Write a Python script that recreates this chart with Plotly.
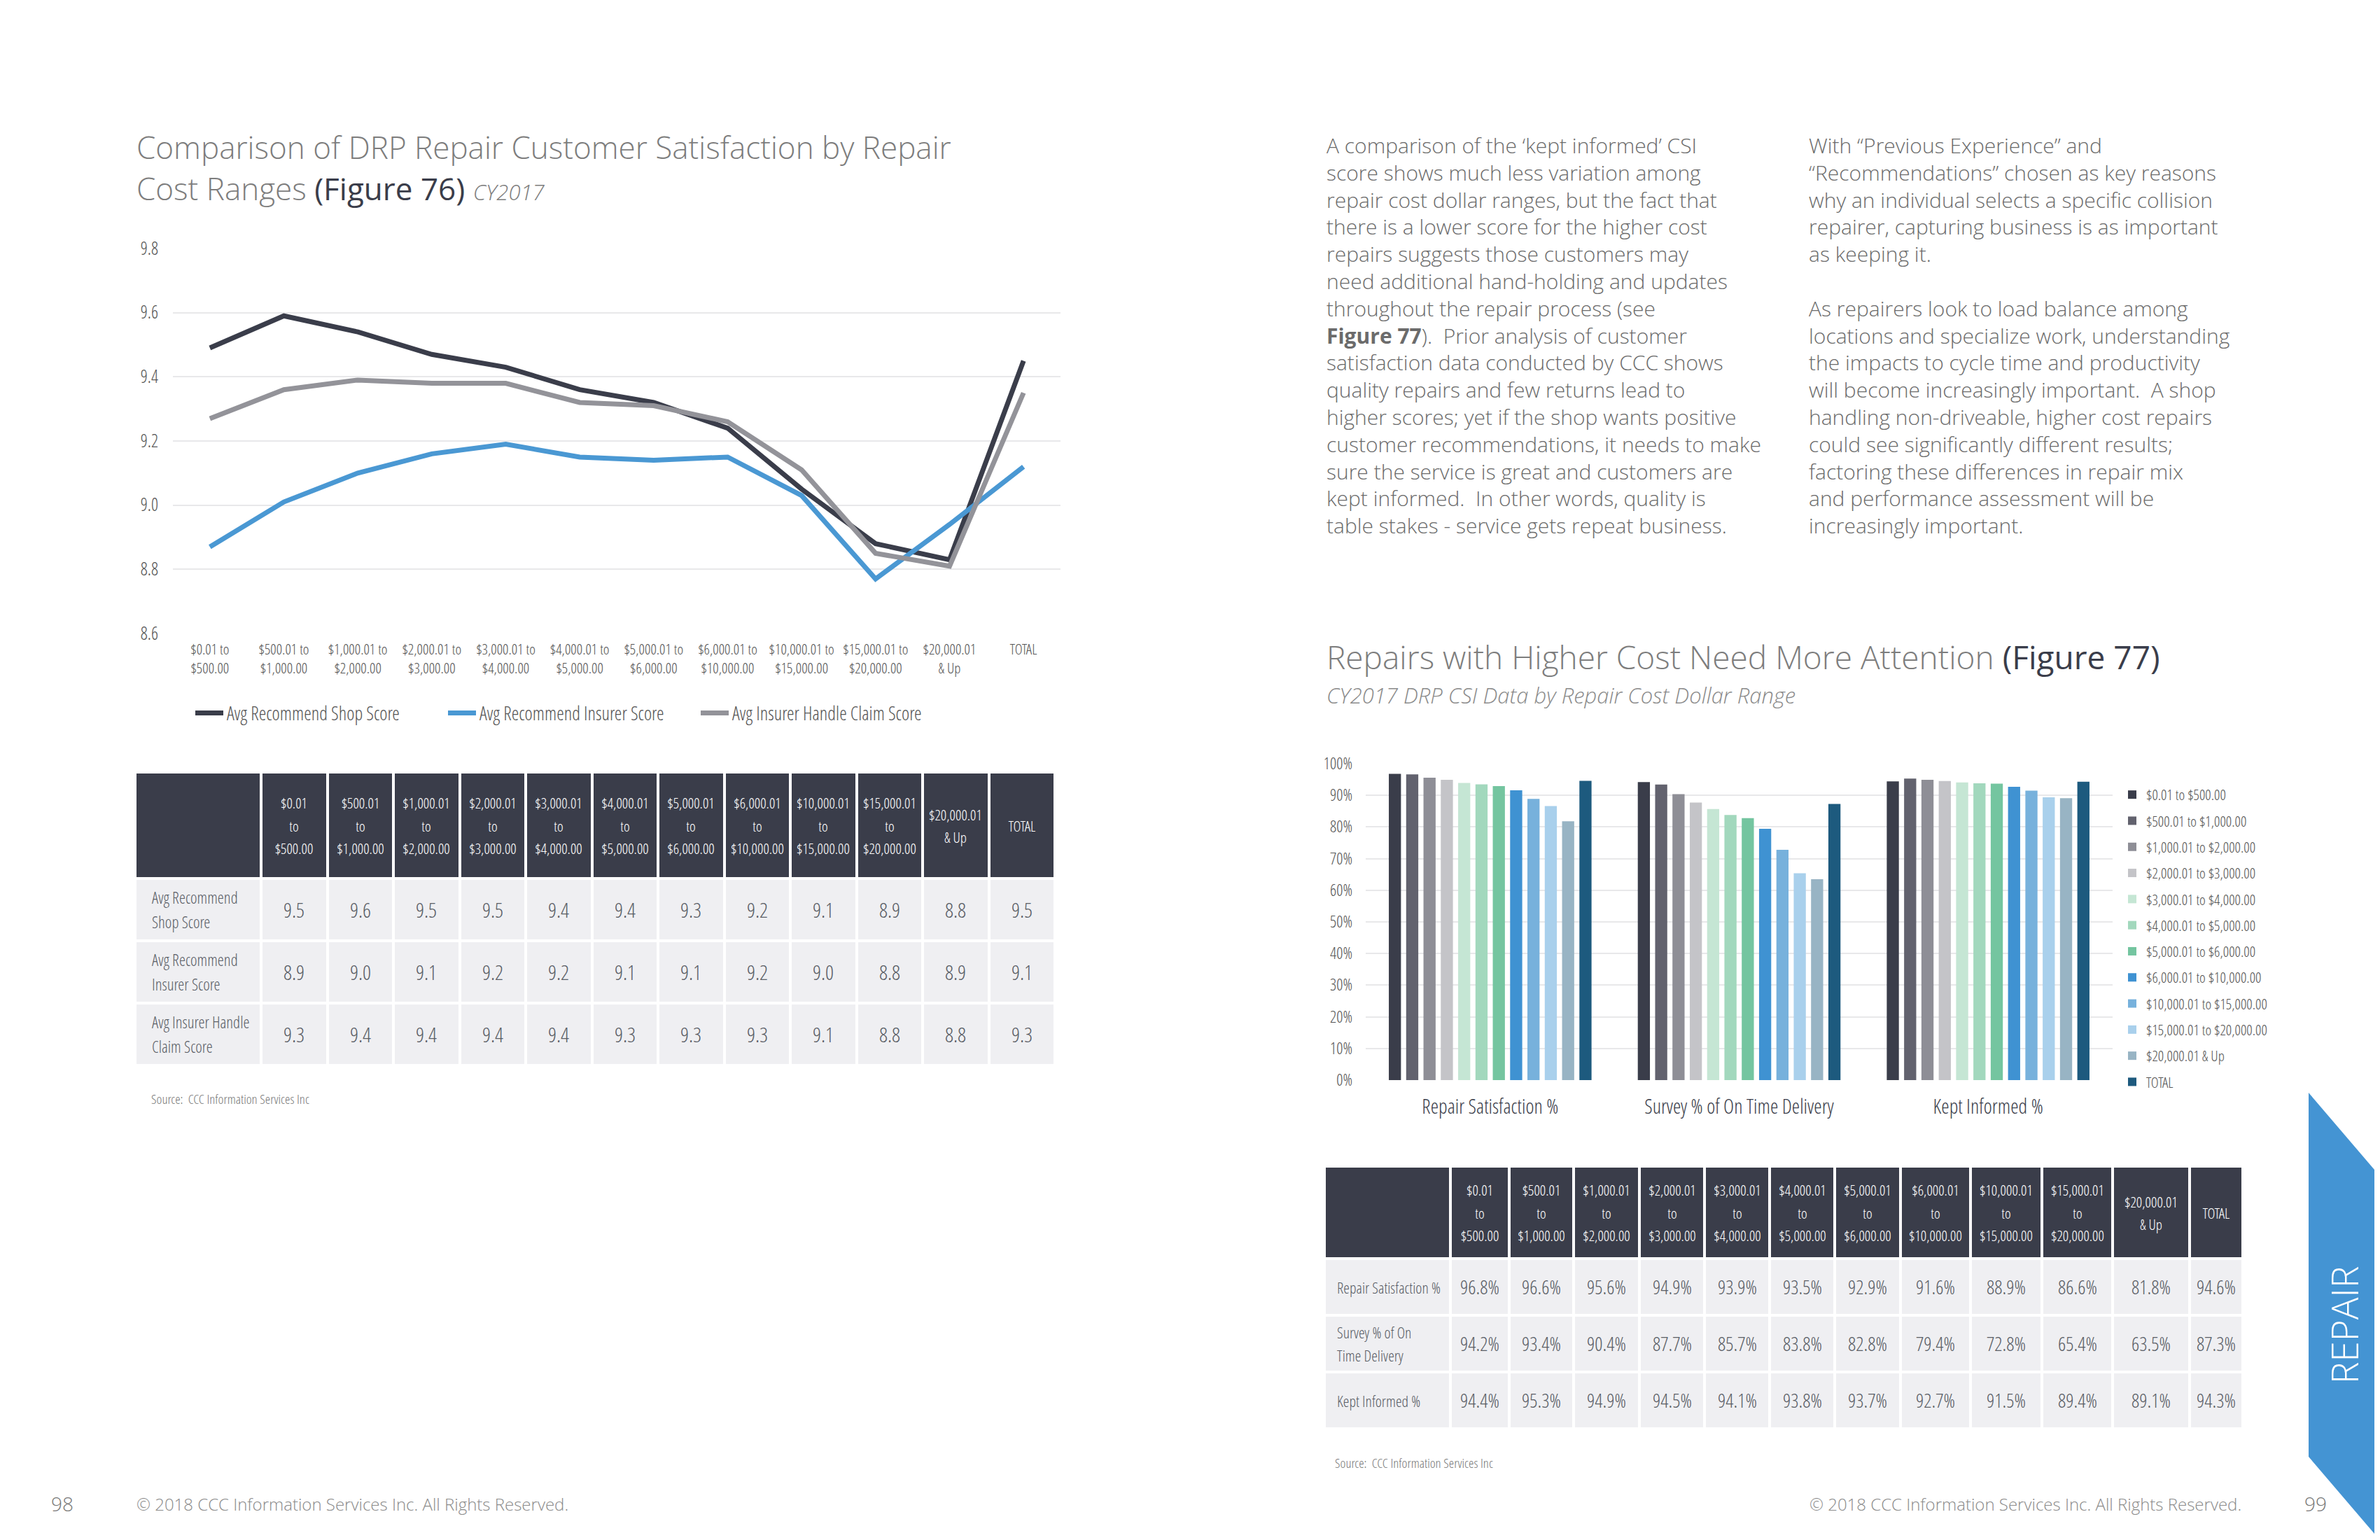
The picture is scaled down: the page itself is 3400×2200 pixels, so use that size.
import plotly.graph_objects as go

W, H = 3400, 2200

# ---------------- DATA : Figure 76 ----------------
cost_ranges_line = ["$0.01 to<br>$500.00", "$500.01 to<br>$1,000.00", "$1,000.01 to<br>$2,000.00",
                    "$2,000.01 to<br>$3,000.00", "$3,000.01 to<br>$4,000.00", "$4,000.01 to<br>$5,000.00",
                    "$5,000.01 to<br>$6,000.00", "$6,000.01 to<br>$10,000.00", "$10,000.01 to<br>$15,000.00",
                    "$15,000.01 to<br>$20,000.00", "$20,000.01<br>& Up", "TOTAL"]
line_series_names = ["Avg Recommend Shop Score", "Avg Recommend Insurer Score", "Avg Insurer Handle Claim Score"]
shop_score = [9.49, 9.59, 9.54, 9.47, 9.43, 9.36, 9.32, 9.24, 9.05, 8.88, 8.83, 9.45]
insurer_score = [8.87, 9.01, 9.10, 9.16, 9.19, 9.15, 9.14, 9.15, 9.03, 8.77, 8.94, 9.12]
handle_score = [9.27, 9.36, 9.39, 9.38, 9.38, 9.32, 9.31, 9.26, 9.11, 8.85, 8.81, 9.35]

table_headers = ["$0.01<br>to<br>$500.00", "$500.01<br>to<br>$1,000.00", "$1,000.01<br>to<br>$2,000.00",
                 "$2,000.01<br>to<br>$3,000.00", "$3,000.01<br>to<br>$4,000.00", "$4,000.01<br>to<br>$5,000.00",
                 "$5,000.01<br>to<br>$6,000.00", "$6,000.01<br>to<br>$10,000.00", "$10,000.01<br>to<br>$15,000.00",
                 "$15,000.01<br>to<br>$20,000.00", "$20,000.01<br>& Up", "TOTAL"]
table1_row_labels = ["Avg Recommend<br>Shop Score", "Avg Recommend<br>Insurer Score", "Avg Insurer Handle<br>Claim Score"]
table1_shop = [9.5, 9.6, 9.5, 9.5, 9.4, 9.4, 9.3, 9.2, 9.1, 8.9, 8.8, 9.5]
table1_insurer = [8.9, 9.0, 9.1, 9.2, 9.2, 9.1, 9.1, 9.2, 9.0, 8.8, 8.9, 9.1]
table1_handle = [9.3, 9.4, 9.4, 9.4, 9.4, 9.3, 9.3, 9.3, 9.1, 8.8, 8.8, 9.3]

# ---------------- DATA : Figure 77 ----------------
csi_metrics = ["Repair Satisfaction %", "Survey % of On Time Delivery", "Kept Informed %"]
cost_ranges_bar = ["$0.01 to $500.00", "$500.01 to $1,000.00", "$1,000.01 to $2,000.00",
                   "$2,000.01 to $3,000.00", "$3,000.01 to $4,000.00", "$4,000.01 to $5,000.00",
                   "$5,000.01 to $6,000.00", "$6,000.01 to $10,000.00", "$10,000.01 to $15,000.00",
                   "$15,000.01 to $20,000.00", "$20,000.01 & Up", "TOTAL"]
repair_satisfaction = [96.8, 96.6, 95.6, 94.9, 93.9, 93.5, 92.9, 91.6, 88.9, 86.6, 81.8, 94.6]
on_time_delivery = [94.2, 93.4, 90.4, 87.7, 85.7, 83.8, 82.8, 79.4, 72.8, 65.4, 63.5, 87.3]
kept_informed = [94.4, 95.3, 94.9, 94.5, 94.1, 93.8, 93.7, 92.7, 91.5, 89.4, 89.1, 94.3]
table2_row_labels = ["Repair Satisfaction %", "Survey % of On<br>Time Delivery", "Kept Informed %"]

# ---------------- TEXT ----------------
title1_line1 = "Comparison of DRP Repair Customer Satisfaction by Repair"
title1_line2 = "Cost Ranges "
title1_fig = "(Figure 76)"
title1_year = "CY2017"
title2 = "Repairs with Higher Cost Need More Attention "
title2_fig = "(Figure 77)"
subtitle2 = "CY2017 DRP CSI Data by Repair Cost Dollar Range"
source_text = "Source:  CCC Information Services Inc"
copyright_text = "© 2018 CCC Information Services Inc. All Rights Reserved."
para_col1 = [
    "A comparison of the ‘kept informed’ CSI",
    "score shows much less variation among",
    "repair cost dollar ranges, but the fact that",
    "there is a lower score for the higher cost",
    "repairs suggests those customers may",
    "need additional hand-holding and updates",
    "throughout the repair process (see",
    "<b>Figure 77</b>).  Prior analysis of customer",
    "satisfaction data conducted by CCC shows",
    "quality repairs and few returns lead to",
    "higher scores; yet if the shop wants positive",
    "customer recommendations, it needs to make",
    "sure the service is great and customers are",
    "kept informed.  In other words, quality is",
    "table stakes - service gets repeat business.",
]
para_col2 = [
    "With “Previous Experience” and",
    "“Recommendations” chosen as key reasons",
    "why an individual selects a specific collision",
    "repairer, capturing business is as important",
    "as keeping it.",
    "",
    "As repairers look to load balance among",
    "locations and specialize work, understanding",
    "the impacts to cycle time and productivity",
    "will become increasingly important.  A shop",
    "handling non-driveable, higher cost repairs",
    "could see significantly different results;",
    "factoring these differences in repair mix",
    "and performance assessment will be",
    "increasingly important.",
]

# ---------------- STYLE ----------------
COND = ("Open Sans Condensed Light, Noto Sans Condensed, Noto Sans ExtraCondensed, "
        "Open Sans Condensed, sans-serif")
SANS = "Open Sans, Lato, sans-serif"
DARK = "#3a3d4a"
LIGHT = "#efeff2"
GRID = "#e8e8ea"
TXT = "#6b6b6b"
VAL = "#5a5e66"
line_colors = [DARK, "#4a98d3", "#939399"]
bar_colors = ["#3a3d4a", "#62626e", "#8e8e96", "#c4c4c8", "#c5e6d4", "#a2d8bd",
              "#74c5a0", "#3f92d2", "#77b1dc", "#a9d0ec", "#98b4c4", "#1d5a7e"]
table1_widths = [180] + [94.5] * 12
table2_widths = [180, 84, 92, 94, 93, 93, 93, 94, 100, 102, 101, 110, 76]
PAGE_OFFSET = 8  # the page body margin shifts the figure by this many px


def cf(size, color="#555"):
    return dict(family=COND, size=size, color=color, weight=300)


def sf(size, color=TXT, weight=300):
    return dict(family=SANS, size=size, color=color, weight=weight)


def sized(text, px):
    # keep the line pitch of the base font while drawing the glyphs at px
    return "<br>".join(f"<span style='font-size:{px}px'>{part}</span>" for part in text.split("<br>"))


def fx(px):
    return (px - PAGE_OFFSET) / W


def fy(py):
    return 1 - (py - PAGE_OFFSET) / H


fig = go.Figure()

# ---- line chart ----
for name, vals, col in zip(line_series_names, [shop_score, insurer_score, handle_score], line_colors):
    fig.add_trace(go.Scatter(x=cost_ranges_line, y=vals, name=name, mode="lines",
                             line=dict(color=col, width=7), xaxis="x", yaxis="y",
                             legend="legend", hoverinfo="skip"))

# ---- grouped bar chart ----
for i, name in enumerate(cost_ranges_bar):
    fig.add_trace(go.Bar(x=csi_metrics,
                         y=[repair_satisfaction[i], on_time_delivery[i], kept_informed[i]],
                         name=name, marker=dict(color=bar_colors[i], line=dict(width=0)),
                         xaxis="x2", yaxis="y2", legend="legend2", legendgroup=str(i),
                         hoverinfo="skip"))


# ---- tables drawn as heatmap bricks ----
def add_table(xa, ya, widths, header_h, row_h, headers, row_values, fmt, val_size):
    xedges = [0]
    for w_ in widths:
        xedges.append(xedges[-1] + w_)
    ncol = len(widths)
    fig.add_trace(go.Heatmap(
        x=xedges, y=[0, header_h], z=[[0] * ncol], text=[[""] + [sized(h, 21) for h in headers]],
        texttemplate="%{text}", textfont=cf(25, "white"),
        colorscale=[[0, DARK], [1, DARK]], showscale=False, xgap=4, ygap=4,
        hoverinfo="skip", xaxis=xa, yaxis=ya))
    yedges = [header_h + k * row_h for k in range(len(row_values) + 1)]
    fig.add_trace(go.Heatmap(
        x=xedges, y=yedges, z=[[0] * ncol for _ in row_values],
        text=[[""] + [fmt(v) for v in row] for row in row_values],
        texttemplate="%{text}", textfont=cf(val_size, VAL),
        colorscale=[[0, LIGHT], [1, LIGHT]], showscale=False, xgap=4, ygap=4,
        hoverinfo="skip", xaxis=xa, yaxis=ya))
    return xedges[-1], yedges, yedges[-1]


t1_w, t1_rows, t1_h = add_table("x3", "y3", table1_widths, 152, 89, table_headers,
                                [table1_shop, table1_insurer, table1_handle],
                                lambda v: f"{v:.1f}", 30)
t2_w, t2_rows, t2_h = add_table("x4", "y4", table2_widths, 132, 81, table_headers,
                                [repair_satisfaction, on_time_delivery, kept_informed],
                                lambda v: f"{v:.1f}%", 28)

annotations = []
for k, lab in enumerate(table1_row_labels):
    annotations.append(dict(xref="x3", yref="y3", x=22, y=(t1_rows[k] + t1_rows[k + 1]) / 2,
                            text=sized(lab, 23), showarrow=False, xanchor="left", align="left",
                            font=cf(27, VAL)))
for k, lab in enumerate(table2_row_labels):
    annotations.append(dict(xref="x4", yref="y4", x=16, y=(t2_rows[k] + t2_rows[k + 1]) / 2,
                            text=sized(lab, 22), showarrow=False, xanchor="left", align="left",
                            font=cf(25, VAL)))

# titles and page texts
annotations += [
    dict(xref="paper", yref="paper", x=fx(193), y=fy(210), text=title1_line1, showarrow=False,
         xanchor="left", yanchor="middle", font=sf(44, "#7d7d7d")),
    dict(xref="paper", yref="paper", x=fx(193), y=fy(269),
         text=title1_line2 + f"<span style='color:{DARK};font-weight:400'>{title1_fig}</span> "
              f"<span style='font-size:31px'><i>{title1_year}</i></span>",
         showarrow=False, xanchor="left", yanchor="middle", font=sf(44, "#7d7d7d")),
    dict(xref="paper", yref="paper", x=fx(1893), y=fy(938),
         text=title2 + f"<span style='color:{DARK};font-weight:400'>{title2_fig}</span>",
         showarrow=False, xanchor="left", yanchor="middle", font=sf(46, "#7d7d7d")),
    dict(xref="paper", yref="paper", x=fx(1893), y=fy(993), text=f"<i>{subtitle2}</i>",
         showarrow=False, xanchor="left", yanchor="middle", font=sf(31, "#8a8a8a")),
    dict(xref="paper", yref="paper", x=fx(214), y=fy(1570), text=source_text, showarrow=False,
         xanchor="left", yanchor="middle", font=cf(19, "#777")),
    dict(xref="paper", yref="paper", x=fx(1905), y=fy(2090), text=source_text, showarrow=False,
         xanchor="left", yanchor="middle", font=cf(19, "#777")),
    dict(xref="paper", yref="paper", x=fx(89), y=fy(2148), text="98", showarrow=False,
         xanchor="center", yanchor="middle", font=sf(28, "#777")),
    dict(xref="paper", yref="paper", x=fx(3308), y=fy(2148), text="99", showarrow=False,
         xanchor="center", yanchor="middle", font=sf(28, "#777")),
    dict(xref="paper", yref="paper", x=fx(193), y=fy(2148), text=copyright_text, showarrow=False,
         xanchor="left", yanchor="middle", font=sf(24, "#8a8a8a")),
    dict(xref="paper", yref="paper", x=fx(3204), y=fy(2148), text=copyright_text, showarrow=False,
         xanchor="right", yanchor="middle", font=sf(24, "#8a8a8a")),
    dict(xref="paper", yref="paper", x=fx(3348), y=fy(1893), text="REPAIR", showarrow=False,
         textangle=-90, xanchor="center", yanchor="middle", font=sf(53, "white")),
]
for i, ln in enumerate(para_col1):
    annotations.append(dict(xref="paper", yref="paper", x=fx(1893), y=fy(207.5 + i * 38.8), text=ln,
                            showarrow=False, xanchor="left", yanchor="middle", font=sf(30)))
for i, ln in enumerate(para_col2):
    if ln:
        annotations.append(dict(xref="paper", yref="paper", x=fx(2582), y=fy(207.5 + i * 38.8), text=ln,
                                showarrow=False, xanchor="left", yanchor="middle", font=sf(30)))


def P(x, y):
    return f"{fx(x):.5f},{fy(y):.5f}"


tab_path = "M" + P(3298, 1561) + " L" + P(3410, 1692) + " L" + P(3410, 2212) + " L" + P(3298, 2081) + " Z"

fig.update_layout(
    width=W, height=H, margin=dict(l=0, r=0, t=0, b=0, autoexpand=False),
    paper_bgcolor="white", plot_bgcolor="white",
    showlegend=True,
    barmode="group", bargap=0.165, bargroupgap=0.3,
    annotations=annotations,
    shapes=[dict(type="path", xref="paper", yref="paper", path=tab_path,
                 fillcolor="#4494d3", line=dict(width=0), layer="below")],
    xaxis=dict(domain=[fx(247), fx(1515)], anchor="y", type="category", range=[-0.5, 11.5],
               showgrid=False, zeroline=False,
               showline=False, ticks="", tickangle=0, tickfont=cf(21), automargin=False,
               ticklabelstandoff=8, fixedrange=True),
    yaxis=dict(domain=[fy(905), fy(355)], anchor="x", range=[8.6, 9.8], dtick=0.2, tickformat=".1f",
               showgrid=True, gridcolor=GRID, gridwidth=2, zeroline=False, showline=False, ticks="",
               tickfont=cf(25), ticklabelstandoff=20, automargin=False, fixedrange=True),
    xaxis2=dict(domain=[fx(1951), fx(3018)], anchor="y2", type="category", showgrid=False, zeroline=False,
                showline=False, ticks="", tickangle=0, tickfont=cf(29, DARK),
                ticklabelstandoff=18, automargin=False, fixedrange=True),
    yaxis2=dict(domain=[fy(1543), fy(1091)], anchor="x2", range=[0, 100], dtick=10, ticksuffix="%",
                showgrid=True, gridcolor=GRID, gridwidth=2, zeroline=False, showline=False, ticks="",
                tickfont=cf(23), ticklabelstandoff=18, automargin=False, fixedrange=True),
    xaxis3=dict(domain=[fx(193), fx(1507)], anchor="y3", range=[0, t1_w], visible=False,
                automargin=False, fixedrange=True),
    yaxis3=dict(domain=[fy(1103 + t1_h), fy(1103)], anchor="x3", range=[t1_h, 0], visible=False,
                automargin=False, fixedrange=True),
    xaxis4=dict(domain=[fx(1892), fx(3204)], anchor="y4", range=[0, t2_w], visible=False,
                automargin=False, fixedrange=True),
    yaxis4=dict(domain=[fy(1666 + t2_h), fy(1666)], anchor="x4", range=[t2_h, 0], visible=False,
                automargin=False, fixedrange=True),
    legend=dict(orientation="h", x=fx(274), y=fy(1019), xanchor="left", yanchor="middle",
                font=cf(27), bgcolor="rgba(0,0,0,0)", itemwidth=40,
                entrywidth=306, entrywidthmode="pixels"),
    legend2=dict(orientation="v", x=fx(3026), y=fy(1115), xanchor="left", yanchor="top",
                 font=cf(21), bgcolor="rgba(0,0,0,0)", traceorder="grouped", tracegroupgap=7),
)

fig.write_html("out.html")
